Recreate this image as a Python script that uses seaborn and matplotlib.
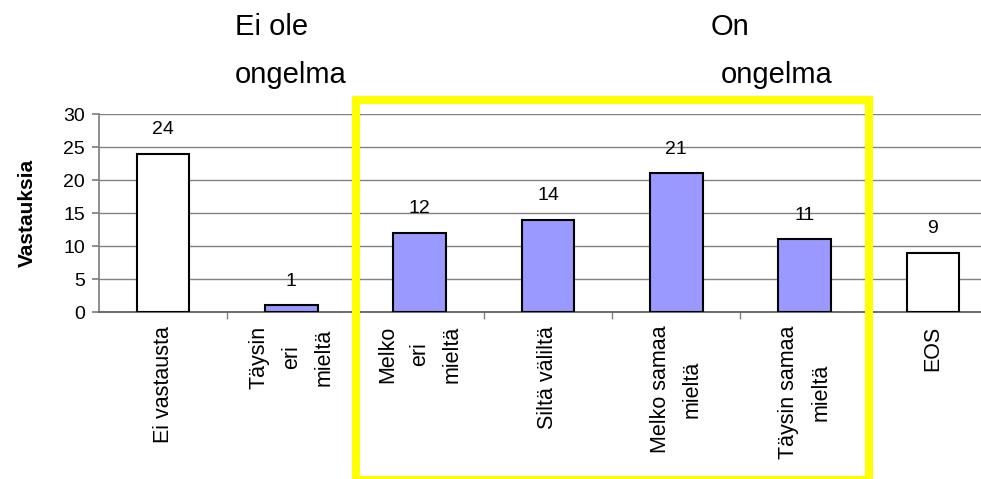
import matplotlib
matplotlib.use("Agg")
import matplotlib.pyplot as plt
import matplotlib.transforms as mtransforms
from matplotlib.patches import Rectangle
import seaborn as sns
import pandas as pd

# Aineisto
kategoriat = ["Ei vastausta", "Täysin\neri\nmieltä", "Melko\neri\nmieltä",
              "Siltä väliltä", "Melko samaa\nmieltä", "Täysin samaa\nmieltä",
              "EOS"]
vastaukset = [24, 1, 12, 14, 21, 11, 9]
varit = ["white", "#9999FF", "#9999FF", "#9999FF", "#9999FF", "#9999FF",
         "white"]
y_tikit = [0, 5, 10, 15, 20, 25, 30]

sns.set_theme(style="white")
plt.rcParams["font.family"] = ["Liberation Sans", "DejaVu Sans"]
plt.rcParams["text.color"] = "black"
plt.rcParams["axes.labelcolor"] = "black"
plt.rcParams["xtick.color"] = "black"
plt.rcParams["ytick.color"] = "black"

df = pd.DataFrame({"kategoria": kategoriat, "vastauksia": vastaukset})

fig = plt.figure(figsize=(9.81, 4.79), dpi=100)
ax = fig.add_axes([0.1009, 0.3486, 0.9154, 0.4134])

sns.barplot(data=df, x="kategoria", y="vastauksia", hue="kategoria",
            palette=varit, legend=False, width=0.41, edgecolor="black",
            linewidth=1.5, saturation=1, ax=ax, zorder=3)

# Arvot pylväiden päälle
for i, v in enumerate(vastaukset):
    ax.annotate(str(v), xy=(i, v), xytext=(0, 14), textcoords="offset points",
                ha="center", va="baseline", fontsize=14, color="black")

ax.set_xlim(-0.5, len(kategoriat) - 0.5)
ax.set_ylim(0, 30)
ax.set_yticks(y_tikit)
ax.yaxis.grid(True, color="#808080", linewidth=1, zorder=0)
ax.set_axisbelow(True)

for s in ["top", "right"]:
    ax.spines[s].set_visible(False)
ax.spines["left"].set_color("#808080")
ax.spines["bottom"].set_color("#606060")
ax.spines["bottom"].set_linewidth(1.3)

ax.tick_params(axis="y", left=True, length=5, color="#808080", pad=5,
               labelsize=14, labelcolor="black")
ax.set_xticks(range(len(kategoriat)))
ax.set_xticklabels(kategoriat, rotation=90, ha="center", va="top",
                   multialignment="center", linespacing=1.7)
ax.tick_params(axis="x", bottom=True, length=0, pad=10, labelsize=15.5,
               labelcolor="black")
ax.set_xticks([i + 0.5 for i in range(len(kategoriat) - 1)], minor=True)
ax.tick_params(axis="x", which="minor", bottom=True, length=5,
               color="#808080")

ax.set_xlabel("")
ax.set_ylabel("Vastauksia", fontsize=15, fontweight="bold", color="black")
ax.yaxis.set_label_coords(-0.069, 0.5)

# Keltainen kehys ongelma-vastausten ympärille
trans = mtransforms.blended_transform_factory(ax.transData, fig.transFigure)
kehys = Rectangle((1.5, -0.002), 4.0, 0.7932, transform=trans,
                  fill=False, edgecolor="#FFFF00", linewidth=5.8,
                  clip_on=False, zorder=5)
ax.add_patch(kehys)

fig.text(235 / 981, 1 - 35 / 479, "Ei ole", fontsize=21, va="baseline")
fig.text(235 / 981, 1 - 83 / 479, "ongelma", fontsize=21, va="baseline")
fig.text(711 / 981, 1 - 35 / 479, "On", fontsize=21, va="baseline")
fig.text(721 / 981, 1 - 83 / 479, "ongelma", fontsize=21, va="baseline")

fig.savefig("out.png", dpi=100)
